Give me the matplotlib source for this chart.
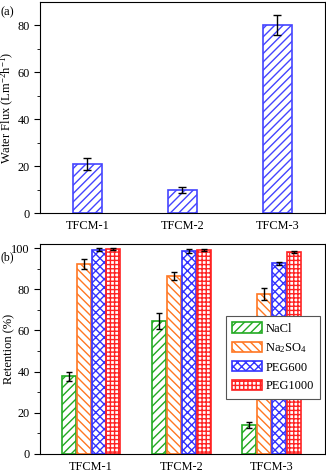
import matplotlib
matplotlib.use("Agg")
import matplotlib.pyplot as plt
import numpy as np

plt.rcParams['font.family'] = ['Liberation Serif', 'DejaVu Serif']
plt.rcParams['hatch.linewidth'] = 1.0
plt.rcParams['mathtext.fontset'] = 'custom'
plt.rcParams['mathtext.rm'] = 'Liberation Serif'
plt.rcParams['mathtext.it'] = 'Liberation Serif:italic'

categories = ["TFCM-1", "TFCM-2", "TFCM-3"]
flux = [20.8, 9.7, 80.3]
flux_err = [2.6, 1.3, 4.2]

series = ["NaCl", "Na$_2$SO$_4$", "PEG600", "PEG1000"]
retention = {
    "NaCl": [37.8, 64.6, 14.0],
    "Na2SO4": [92.2, 86.4, 77.8],
    "PEG600": [99.2, 98.6, 92.7],
    "PEG1000": [99.6, 98.9, 98.2],
}
retention_err = {
    "NaCl": [2.2, 3.9, 1.6],
    "Na2SO4": [2.4, 1.8, 2.9],
    "PEG600": [0.7, 1.0, 0.8],
    "PEG1000": [0.4, 0.5, 0.5],
}
keys = ["NaCl", "Na2SO4", "PEG600", "PEG1000"]
colors = ["#22aa22", "#ff7722", "#3333ff", "#ff2222"]
hatches = ["////", "\\\\\\\\", "xxxx", "++++"]

TICK_FS = 8.8
LABEL_FS = 9

fig = plt.figure(figsize=(3.26, 4.74), dpi=100)

# Panel (a)
ax1 = fig.add_axes([40/326, (474-213)/474, 285/326, 211/474])
x = np.arange(1, 4)
ax1.bar(x, flux, width=0.3, color='white', edgecolor='#4444ff', hatch='////', linewidth=1.2)
ax1.errorbar(x, flux, yerr=flux_err, fmt='none', ecolor='black', elinewidth=1, capsize=3, capthick=1)
ax1.set_xlim(0.5, 3.5)
ax1.set_ylim(0, 90)
ax1.set_yticks([0, 20, 40, 60, 80])
ax1.set_yticks([10, 30, 50, 70], minor=True)
ax1.set_xticks(x)
ax1.set_xticklabels(categories)
ax1.tick_params(axis='x', length=0, labelsize=TICK_FS, pad=5)
ax1.tick_params(axis='y', which='major', direction='out', length=4, labelsize=TICK_FS)
ax1.tick_params(axis='y', which='minor', direction='out', length=2)
ax1.set_ylabel("Water Flux (Lm$^{-2}$h$^{-1}$)", fontsize=LABEL_FS)
ax1.yaxis.set_label_coords(-24.5/285, 0.5)
fig.text(0.002, 1 - 12/474, "(a)", fontsize=LABEL_FS, va='center', ha='left')

# Panel (b)
ax2 = fig.add_axes([40/326, (474-454)/474, 285/326, 210/474])
w = 0.155
step = 0.165
for i, k in enumerate(keys):
    xs = x + (i - 1.5) * step
    ax2.bar(xs, retention[k], width=w, color='white', edgecolor=colors[i],
            hatch=hatches[i], linewidth=1.2, label=series[i])
    ax2.errorbar(xs, retention[k], yerr=retention_err[k], fmt='none', ecolor='black',
                 elinewidth=1, capsize=2.5, capthick=1)
ax2.set_xlim(0.433, 3.594)
ax2.set_ylim(0, 102)
ax2.set_yticks([0, 20, 40, 60, 80, 100])
ax2.set_yticks([10, 30, 50, 70, 90], minor=True)
ax2.set_xticks(x)
ax2.set_xticklabels(categories)
ax2.tick_params(axis='x', length=0, labelsize=TICK_FS, pad=5)
ax2.tick_params(axis='y', which='major', direction='out', length=4, labelsize=TICK_FS)
ax2.tick_params(axis='y', which='minor', direction='out', length=2)
ax2.set_ylabel("Retention (%)", fontsize=LABEL_FS)
ax2.yaxis.set_label_coords(-24.5/285, 0.5)
leg = ax2.legend(loc='upper left', bbox_to_anchor=((226-40)/285, (454-316)/210),
                 fontsize=LABEL_FS, handlelength=2.35, handleheight=0.9, borderpad=0.5,
                 labelspacing=0.5, handletextpad=0.3, fancybox=False, framealpha=1,
                 edgecolor='#555555', borderaxespad=0)
leg.get_frame().set_linewidth(0.8)
fig.text(0.002, 1 - 257/474, "(b)", fontsize=LABEL_FS - 0.5, va='center', ha='left')

fig.savefig("out.png", dpi=100)
